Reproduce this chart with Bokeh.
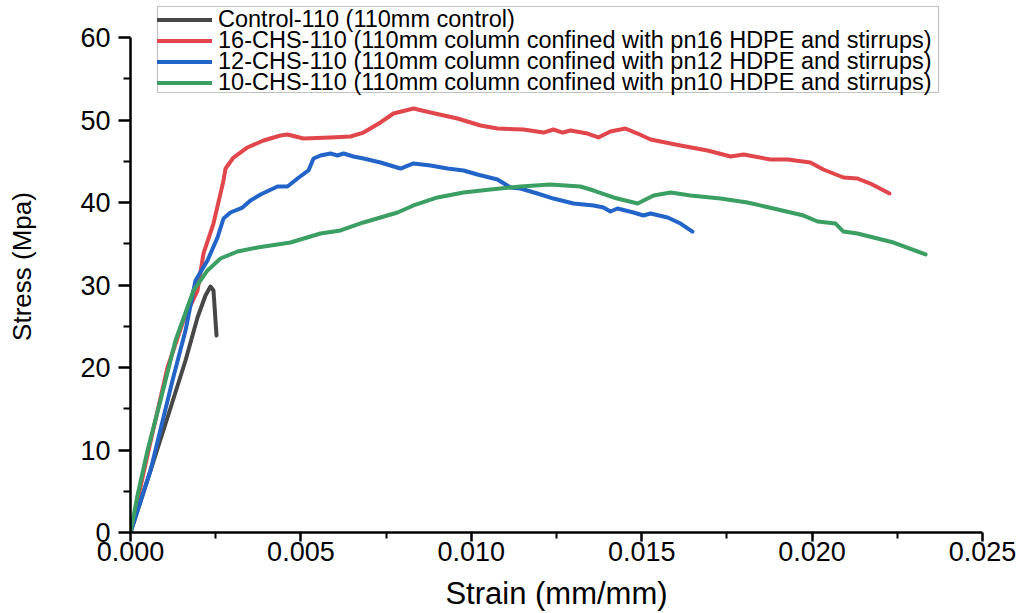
from bokeh.plotting import figure
from bokeh.models import Legend, LegendItem, FixedTicker, Range1d, BoxAnnotation
from bokeh.embed import file_html
from bokeh.resources import INLINE

# Stress-strain curves (strain in mm/mm, stress in MPa)
control_strain = [0.0, 0.000587, 0.001086, 0.001614, 0.001966, 0.0022, 0.002347, 0.002435, 0.002524]
control_stress = [0.0, 7.5, 13.94, 20.85, 26.06, 28.73, 29.82, 29.33, 23.88]

chs16_strain = [0.0, 0.000528, 0.001086, 0.001555, 0.001966, 0.002142, 0.002435, 0.002729, 0.002788,
                0.003022, 0.003433, 0.003903, 0.004401, 0.004607, 0.005076, 0.005869, 0.006455,
                0.006837, 0.007336, 0.007717, 0.008304, 0.008803, 0.009595, 0.01027, 0.01077,
                0.01153, 0.01212, 0.01241, 0.01268, 0.01291, 0.01341, 0.01373, 0.01408, 0.01452,
                0.01488, 0.01526, 0.01614, 0.01693, 0.01761, 0.01799, 0.01878, 0.01928, 0.01995,
                0.02033, 0.02092, 0.02133, 0.02171, 0.02227]
chs16_stress = [0.0, 9.94, 20.0, 25.7, 29.33, 33.82, 37.45, 42.67, 44.12,
                45.45, 46.67, 47.52, 48.12, 48.24, 47.76, 47.88, 48.0,
                48.48, 49.70, 50.79, 51.39, 50.91, 50.18, 49.33, 48.97,
                48.85, 48.48, 48.85, 48.48, 48.73, 48.36, 47.88, 48.61, 48.97,
                48.36, 47.64, 46.91, 46.30, 45.58, 45.82, 45.21, 45.21, 44.85,
                44.0, 43.03, 42.91, 42.30, 41.09]

chs12_strain = [0.0, 0.000587, 0.001232, 0.001614, 0.001907, 0.002259, 0.002553, 0.002729, 0.002934,
                0.003286, 0.003521, 0.003815, 0.004313, 0.004607, 0.0049, 0.005223, 0.00537,
                0.005575, 0.005869, 0.006074, 0.00625, 0.006543, 0.006837, 0.007336, 0.007923,
                0.008304, 0.008803, 0.009302, 0.009771, 0.01018, 0.01077, 0.01115, 0.01144,
                0.01194, 0.01241, 0.013, 0.01359, 0.01388, 0.01408, 0.01429, 0.01476, 0.01505,
                0.01526, 0.01576, 0.01614, 0.01649]
chs12_stress = [0.0, 7.52, 18.42, 24.48, 30.55, 32.97, 35.76, 38.06, 38.79,
                39.39, 40.24, 40.97, 41.94, 41.94, 42.91, 43.88, 45.33,
                45.70, 45.94, 45.70, 45.94, 45.58, 45.33, 44.85, 44.12,
                44.73, 44.48, 44.12, 43.88, 43.39, 42.79, 41.82, 41.70,
                41.09, 40.48, 39.88, 39.64, 39.39, 38.91, 39.27, 38.79, 38.42,
                38.67, 38.18, 37.45, 36.48]

chs10_strain = [0.0, 0.000205, 0.000499, 0.00088, 0.00132, 0.001849, 0.002259, 0.002641, 0.00314,
                0.003727, 0.004695, 0.005575, 0.006162, 0.006837, 0.007834, 0.008304, 0.009008,
                0.009771, 0.01056, 0.01144, 0.01232, 0.0132, 0.01359, 0.01417, 0.01488, 0.01535,
                0.01585, 0.01643, 0.01731, 0.0181, 0.01887, 0.01975, 0.02016, 0.02069, 0.02092,
                0.02133, 0.02239, 0.02333]
chs10_stress = [0.0, 4.48, 9.94, 16.0, 23.27, 29.33, 31.76, 33.21, 34.06,
                34.55, 35.15, 36.24, 36.61, 37.58, 38.79, 39.64, 40.61,
                41.21, 41.58, 41.94, 42.18, 41.94, 41.45, 40.61, 39.88, 40.85,
                41.21, 40.85, 40.48, 40.0, 39.27, 38.42, 37.70, 37.45, 36.48,
                36.24, 35.15, 33.70]

series_labels = [
    "Control-110 (110mm control)",
    "16-CHS-110 (110mm column confined with pn16 HDPE and stirrups)",
    "12-CHS-110 (110mm column confined with pn12 HDPE and stirrups)",
    "10-CHS-110 (110mm column confined with pn10 HDPE and stirrups)",
]
series_colors = ["#474747", "#e0464c", "#2364c8", "#3b9e62"]

x_ticks = [0.0, 0.005, 0.010, 0.015, 0.020, 0.025]
x_minor = [0.0025, 0.0075, 0.0125, 0.0175, 0.0225]
y_ticks = [0, 10, 20, 30, 40, 50, 60]
y_minor = [5, 15, 25, 35, 45, 55]

FONT = "Liberation Sans"
X_END, Y_END = 0.025, 64.485

# frame reaches the top edge so the legend can sit above the 60 MPa tick;
# the y axis line itself stops at 60
FRAME_W, FRAME_H = 852, 532
p = figure(width=1021, height=613, output_backend="svg", toolbar_location=None,
           x_range=Range1d(0, X_END), y_range=Range1d(0, Y_END),
           min_border_left=130, min_border_right=39, min_border_top=0, min_border_bottom=81)
p.outline_line_color = None
p.xgrid.visible = False
p.ygrid.visible = False
p.background_fill_color = "white"
p.border_fill_color = "white"

p.xaxis.ticker = FixedTicker(ticks=x_ticks, minor_ticks=x_minor)
p.yaxis.ticker = FixedTicker(ticks=y_ticks, minor_ticks=y_minor)
p.yaxis.bounds = (0, 60)
p.xaxis.major_label_overrides = {t: f"{t:.3f}" for t in x_ticks}

for ax in (p.xaxis, p.yaxis):
    ax.axis_line_width = 2.5
    ax.axis_line_color = "black"
    ax.major_tick_line_width = 2.5
    ax.minor_tick_line_width = 2
    ax.major_tick_line_color = "black"
    ax.minor_tick_line_color = "black"
    ax.major_tick_in = 0
    ax.minor_tick_in = 0
    ax.major_label_text_font = FONT
    ax.major_label_text_font_size = "27px"
    ax.major_label_text_color = "black"
    ax.axis_label_text_font = FONT
    ax.axis_label_text_font_style = "normal"
    ax.axis_label_text_color = "black"

p.yaxis.major_tick_out = 12
p.yaxis.minor_tick_out = 7
p.xaxis.major_tick_out = 9
p.xaxis.minor_tick_out = 6

p.xaxis.axis_label = "Strain (mm/mm)"
p.yaxis.axis_label = "Stress (Mpa)"
p.xaxis.axis_label_text_font_size = "31px"
p.yaxis.axis_label_text_font_size = "26px"
p.xaxis.major_label_standoff = 0
p.yaxis.major_label_standoff = 8
p.xaxis.axis_label_standoff = 12
p.yaxis.axis_label_standoff = 40

renderers = []
for xs, ys, col in [(control_strain, control_stress, series_colors[0]),
                    (chs16_strain, chs16_stress, series_colors[1]),
                    (chs12_strain, chs12_stress, series_colors[2]),
                    (chs10_strain, chs10_stress, series_colors[3])]:
    r = p.line(xs, ys, line_color=col, line_width=4, line_join="round", line_cap="round")
    renderers.append(r)


# legend frame, placed in pixels from the top-left of the plot frame
def px_to_x(px):
    return px / FRAME_W * X_END


def px_to_y(py):
    return (FRAME_H - py) / FRAME_H * Y_END


box = BoxAnnotation(left=px_to_x(27), right=px_to_x(808), top=px_to_y(6), bottom=px_to_y(92),
                    fill_color="white", fill_alpha=1.0,
                    line_color="#333333", line_width=1.2)
p.add_layout(box)

# one single-entry legend per row, rows 21 px apart
ROW_CENTERS = [19, 40, 61, 82]
ROW_H = 28
for lab, r, cy in zip(series_labels, renderers, ROW_CENTERS):
    lg = Legend(items=[LegendItem(label=lab, renderers=[r])],
                location=(27, FRAME_H - cy - ROW_H / 2), orientation="vertical",
                label_text_font=FONT, label_text_font_size="23.5px", label_text_color="black",
                label_height=21, label_standoff=6, glyph_width=55, glyph_height=21,
                spacing=0, padding=0, margin=0, border_line_color=None,
                background_fill_alpha=0.0)
    p.add_layout(lg, "center")

open("out.html", "w").write(file_html(p, INLINE))
